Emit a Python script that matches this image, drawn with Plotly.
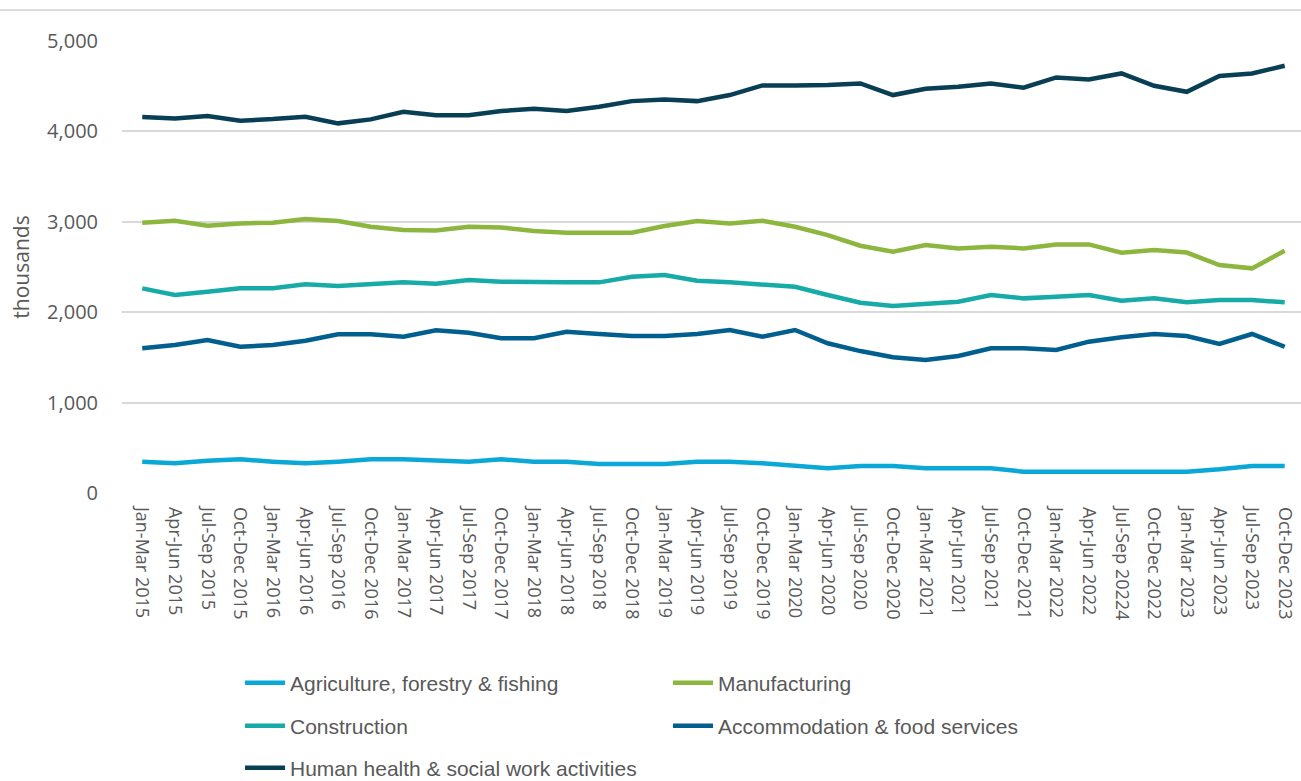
import plotly.graph_objects as go

quarters = [
    "Jan-Mar 2015", "Apr-Jun 2015", "Jul-Sep 2015", "Oct-Dec 2015",
    "Jan-Mar 2016", "Apr-Jun 2016", "Jul-Sep 2016", "Oct-Dec 2016",
    "Jan-Mar 2017", "Apr-Jun 2017", "Jul-Sep 2017", "Oct-Dec 2017",
    "Jan-Mar 2018", "Apr-Jun 2018", "Jul-Sep 2018", "Oct-Dec 2018",
    "Jan-Mar 2019", "Apr-Jun 2019", "Jul-Sep 2019", "Oct-Dec 2019",
    "Jan-Mar 2020", "Apr-Jun 2020", "Jul-Sep 2020", "Oct-Dec 2020",
    "Jan-Mar 2021", "Apr-Jun 2021", "Jul-Sep 2021", "Oct-Dec 2021",
    "Jan-Mar 2022", "Apr-Jun 2022", "Jul-Sep 20224", "Oct-Dec 2022",
    "Jan-Mar 2023", "Apr-Jun 2023", "Jul-Sep 2023", "Oct-Dec 2023",
]

agriculture = [346, 328, 357, 372, 346, 328, 346, 372, 372, 365, 346, 372,
               346, 346, 321, 321, 321, 346, 346, 328, 299, 273, 299, 299,
               273, 273, 273, 236, 236, 236, 236, 236, 236, 262, 299, 299]
manufacturing = [2990, 3012, 2957, 2982, 2990, 3030, 3008, 2945, 2909, 2905, 2945, 2938,
                 2898, 2879, 2879, 2879, 2953, 3008, 2982, 3012, 2945, 2853, 2735, 2669,
                 2743, 2706, 2724, 2706, 2750, 2750, 2658, 2688, 2660, 2522, 2485, 2680]
construction = [2264, 2190, 2227, 2264, 2264, 2308, 2289, 2311, 2330, 2315, 2356, 2337,
                2330, 2330, 2330, 2393, 2411, 2348, 2330, 2308, 2282, 2190, 2105, 2068,
                2098, 2116, 2190, 2153, 2171, 2190, 2127, 2153, 2109, 2135, 2135, 2109]
accommodation = [1600, 1637, 1692, 1618, 1637, 1685, 1755, 1755, 1729, 1800, 1773, 1711,
                 1711, 1784, 1759, 1736, 1736, 1759, 1803, 1729, 1803, 1656, 1570, 1501,
                 1471, 1515, 1600, 1600, 1582, 1674, 1722, 1759, 1736, 1648, 1759, 1618]
health = [4158, 4144, 4170, 4118, 4136, 4162, 4089, 4133, 4217, 4180, 4180, 4225,
          4250, 4225, 4272, 4335, 4354, 4335, 4402, 4509, 4509, 4512, 4531, 4402,
          4472, 4494, 4531, 4483, 4597, 4575, 4641, 4505, 4438, 4612, 4641, 4726]

y_ticks = [0, 1000, 2000, 3000, 4000, 5000]
y_tick_labels = ["0", "1,000", "2,000", "3,000", "4,000", "5,000"]

series = [
    ("Agriculture, forestry & fishing", agriculture, "#0aa8d6", "legend"),
    ("Manufacturing", manufacturing, "#8db63f", "legend"),
    ("Construction", construction, "#16aba6", "legend2"),
    ("Accommodation & food services", accommodation, "#005f8e", "legend2"),
    ("Human health & social work activities", health, "#083f55", "legend3"),
]

fig = go.Figure()
for name, vals, color, lg in series:
    fig.add_trace(go.Scatter(
        x=list(range(len(quarters))), y=vals, name=name, mode="lines",
        line=dict(color=color, width=4.5, shape="linear"), legend=lg,
    ))

W, H = 1301, 781
L, R, T, B = 122, 0, 41, 288
pw = W - L - R
ph = H - T - B

def px_x(p):
    return (p - L) / pw

def px_y(p):
    return (H - B - p) / ph

def cx(p):
    return p / W

def cy(p):
    return (H - p) / H

legend_font = dict(family="Liberation Sans Narrow, Arial Narrow, sans-serif", size=21, color="#595959")
common_legend = dict(orientation="h", xanchor="left", yanchor="middle", font=legend_font,
                     xref="container", yref="container",
                     bgcolor="rgba(0,0,0,0)", entrywidth=373, entrywidthmode="pixels",
                     itemwidth=40, tracegroupgap=0)

fig.update_layout(
    width=W, height=H,
    margin=dict(l=L, r=R, t=T, b=B, pad=0, autoexpand=False),
    paper_bgcolor="white", plot_bgcolor="white",
    showlegend=True,
    legend=dict(x=cx(240), y=cy(683), **common_legend),
    legend2=dict(x=cx(240), y=cy(726), **common_legend),
    legend3=dict(x=cx(240), y=cy(768), **common_legend),
    xaxis=dict(
        tickmode="array", tickvals=list(range(len(quarters))), ticktext=quarters,
        tickangle=90, range=[-0.62, 35.5], showgrid=False, zeroline=False,
        showline=False, ticks="", ticklabelstandoff=13, automargin=False,
        ticklabeloverflow="allow",
        tickfont=dict(family="Open Sans, sans-serif", size=18, color="#595959"),
    ),
    yaxis=dict(
        tickmode="array", tickvals=y_ticks, ticktext=y_tick_labels,
        range=[0, 5000], showgrid=True, gridcolor="#d9d9d9", gridwidth=1.5,
        zeroline=False, showline=False, ticks="", ticklabelstandoff=23, automargin=False,
        tickfont=dict(family="Open Sans, sans-serif", size=20, color="#595959"),
        title=dict(text="thousands", standoff=11,
                   font=dict(family="Open Sans, sans-serif", size=21, color="#595959")),
    ),
    shapes=[dict(type="line", xref="paper", yref="paper", x0=px_x(0), x1=px_x(W),
                 y0=px_y(10), y1=px_y(10), line=dict(color="#d0d0d0", width=1.5))],
)

fig.write_html("out.html", config={"displayModeBar": False},
               post_script="document.body.style.margin='0px';document.body.style.overflow='hidden';")
